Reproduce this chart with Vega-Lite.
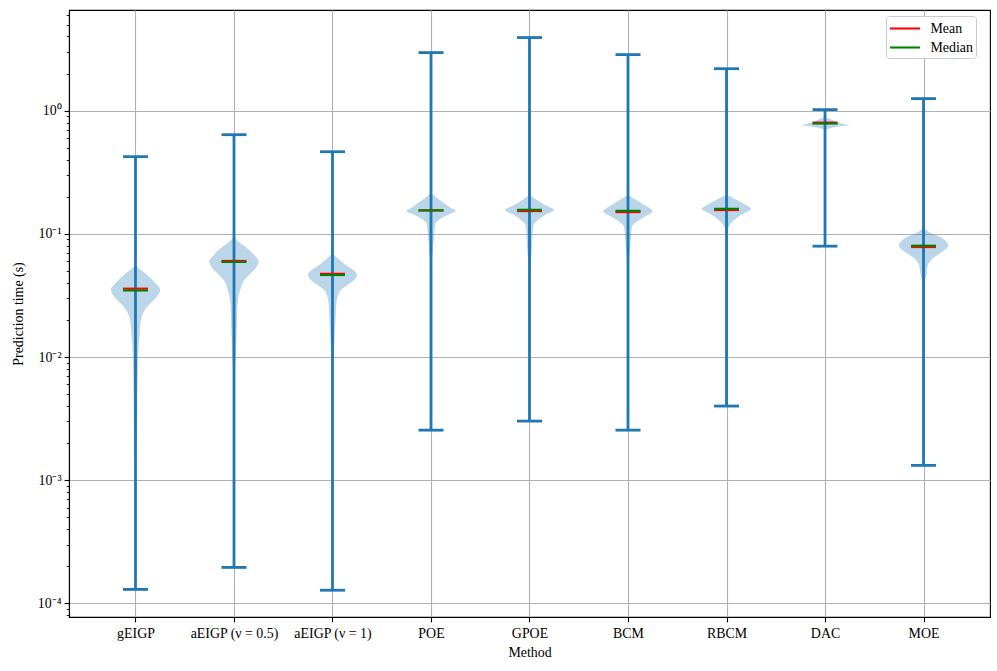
{
  "$schema": "https://vega.github.io/schema/vega-lite/v6.json",
  "width": 921,
  "height": 607,
  "autosize": {"type": "none"},
  "padding": {"left": 69, "top": 10, "right": 7, "bottom": 54},
  "background": "white",
  "datasets": {
    "violin": [
      {"m":1,"t":0.05598,"w":0},{"m":1,"t":0.05262,"w":0.033},{"m":1,"t":0.04642,"w":0.119},{"m":1,"t":0.04095,"w":0.186},{"m":1,"t":0.03505,"w":0.25},{"m":1,"t":0.03,"w":0.203},{"m":1,"t":0.02647,"w":0.135},{"m":1,"t":0.02335,"w":0.084},{"m":1,"t":0.02063,"w":0.058},{"m":1,"t":0.0182,"w":0.048},{"m":1,"t":0.0151,"w":0.041},{"m":1,"t":0.01252,"w":0.033},{"m":1,"t":0.01,"w":0.027},{"m":1,"t":0.004472,"w":0.02},{"m":1,"t":0.002115,"w":0.015},{"m":1,"t":0.001454,"w":0},
      {"m":2,"t":0.09454,"w":0},{"m":2,"t":0.08657,"w":0.044},{"m":2,"t":0.0765,"w":0.135},{"m":2,"t":0.06751,"w":0.203},{"m":2,"t":0.05954,"w":0.25},{"m":2,"t":0.05262,"w":0.22},{"m":2,"t":0.04642,"w":0.152},{"m":2,"t":0.04095,"w":0.094},{"m":2,"t":0.03618,"w":0.068},{"m":2,"t":0.03,"w":0.044},{"m":2,"t":0.02488,"w":0.033},{"m":2,"t":0.01936,"w":0.03},{"m":2,"t":0.01331,"w":0.023},{"m":2,"t":0.009454,"w":0.015},{"m":2,"t":0.006501,"w":0},
      {"m":3,"t":0.06968,"w":0},{"m":3,"t":0.06345,"w":0.051},{"m":3,"t":0.05598,"w":0.135},{"m":3,"t":0.04937,"w":0.23},{"m":3,"t":0.04642,"w":0.25},{"m":3,"t":0.04227,"w":0.22},{"m":3,"t":0.03849,"w":0.152},{"m":3,"t":0.03505,"w":0.084},{"m":3,"t":0.03192,"w":0.058},{"m":3,"t":0.02816,"w":0.041},{"m":3,"t":0.02195,"w":0.033},{"m":3,"t":0.0151,"w":0.023},{"m":3,"t":0.0114,"w":0.015},{"m":3,"t":0.00861,"w":0},
      {"m":4,"t":0.2142,"w":0},{"m":4,"t":0.1951,"w":0.061},{"m":4,"t":0.1776,"w":0.132},{"m":4,"t":0.1618,"w":0.203},{"m":4,"t":0.1538,"w":0.25},{"m":4,"t":0.1427,"w":0.172},{"m":4,"t":0.13,"w":0.081},{"m":4,"t":0.1222,"w":0.046},{"m":4,"t":0.1078,"w":0.035},{"m":4,"t":0.09226,"w":0.03},{"m":4,"t":0.08141,"w":0.023},{"m":4,"t":0.06751,"w":0.015},{"m":4,"t":0.05598,"w":0},
      {"m":5,"t":0.2075,"w":0},{"m":5,"t":0.189,"w":0.071},{"m":5,"t":0.1721,"w":0.152},{"m":5,"t":0.1558,"w":0.25},{"m":5,"t":0.1427,"w":0.162},{"m":5,"t":0.13,"w":0.091},{"m":5,"t":0.1184,"w":0.041},{"m":5,"t":0.1044,"w":0.033},{"m":5,"t":0.08141,"w":0.027},{"m":5,"t":0.06147,"w":0.015},{"m":5,"t":0.04642,"w":0},
      {"m":6,"t":0.2075,"w":0},{"m":6,"t":0.189,"w":0.081},{"m":6,"t":0.1721,"w":0.162},{"m":6,"t":0.1518,"w":0.25},{"m":6,"t":0.1382,"w":0.172},{"m":6,"t":0.1259,"w":0.091},{"m":6,"t":0.1146,"w":0.041},{"m":6,"t":0.1013,"w":0.033},{"m":6,"t":0.08141,"w":0.025},{"m":6,"t":0.06751,"w":0.015},{"m":6,"t":0.05598,"w":0},
      {"m":7,"t":0.2075,"w":0},{"m":7,"t":0.189,"w":0.101},{"m":7,"t":0.1721,"w":0.193},{"m":7,"t":0.1588,"w":0.25},{"m":7,"t":0.1473,"w":0.183},{"m":7,"t":0.1341,"w":0.101},{"m":7,"t":0.1222,"w":0.046},{"m":7,"t":0.1146,"w":0.025},{"m":7,"t":0.1038,"w":0},
      {"m":8,"t":0.8888,"w":0},{"m":8,"t":0.8449,"w":0.071},{"m":8,"t":0.8032,"w":0.132},{"m":8,"t":0.7736,"w":0.203},{"m":8,"t":0.7593,"w":0.25},{"m":8,"t":0.7412,"w":0.122},{"m":8,"t":0.718,"w":0.051},{"m":8,"t":0.7006,"w":0},
      {"m":9,"t":0.1119,"w":0},{"m":9,"t":0.1019,"w":0.068},{"m":9,"t":0.09279,"w":0.183},{"m":9,"t":0.07988,"w":0.25},{"m":9,"t":0.0714,"w":0.193},{"m":9,"t":0.06501,"w":0.112},{"m":9,"t":0.05921,"w":0.061},{"m":9,"t":0.05391,"w":0.041},{"m":9,"t":0.04642,"w":0.03},{"m":9,"t":0.03849,"w":0}
    ],
    "stats": [
      {"m":1,"min":0.00013,"max":0.423},
      {"m":2,"min":0.000196,"max":0.638},
      {"m":3,"min":0.000128,"max":0.464},
      {"m":4,"min":0.00255,"max":2.96},
      {"m":5,"min":0.00302,"max":3.92},
      {"m":6,"min":0.00255,"max":2.85},
      {"m":7,"min":0.004,"max":2.19},
      {"m":8,"min":0.0794,"max":1.019},
      {"m":9,"min":0.00132,"max":1.252}
    ],
    "centers": [
      {"m":1,"stat":"Mean","v":0.0359},{"m":2,"stat":"Mean","v":0.0603},{"m":3,"stat":"Mean","v":0.0474},{"m":4,"stat":"Mean","v":0.155},{"m":5,"stat":"Mean","v":0.153},{"m":6,"stat":"Mean","v":0.150},{"m":7,"stat":"Mean","v":0.1559},{"m":8,"stat":"Mean","v":0.800},{"m":9,"stat":"Mean","v":0.0781},
      {"m":1,"stat":"Median","v":0.0347},{"m":2,"stat":"Median","v":0.0591},{"m":3,"stat":"Median","v":0.0463},{"m":4,"stat":"Median","v":0.155},{"m":5,"stat":"Median","v":0.1567},{"m":6,"stat":"Median","v":0.1538},{"m":7,"stat":"Median","v":0.1597},{"m":8,"stat":"Median","v":0.786},{"m":9,"stat":"Median","v":0.0801}
    ]
  },
  "layer": [
    {
      "data": {"name": "violin"},
      "transform": [
        {"calculate": "datum.m - datum.w", "as": "lo"},
        {"calculate": "datum.m + datum.w", "as": "hi"}
      ],
      "mark": {"type": "area", "orient": "horizontal", "interpolate": "monotone", "fill": "#1f77b4", "fillOpacity": 0.3, "strokeWidth": 0},
      "encoding": {
        "y": {
          "field": "t", "type": "quantitative", "title": "Prediction time (s)",
          "scale": {"type": "log", "domain": [0.0000776, 6.56], "nice": false, "zero": false},
          "axis": {
            "values": [0.00008,0.00009,0.0001,0.0002,0.0003,0.0004,0.0005,0.0006,0.0007,0.0008,0.0009,0.001,0.002,0.003,0.004,0.005,0.006,0.007,0.008,0.009,0.01,0.02,0.03,0.04,0.05,0.06,0.07,0.08,0.09,0.1,0.2,0.3,0.4,0.5,0.6,0.7,0.8,0.9,1,2,3,4,5,6],
            "labelExpr": "datum.value==1 ? '10⁰' : datum.value==0.1 ? '10⁻¹' : datum.value==0.01 ? '10⁻²' : datum.value==0.001 ? '10⁻³' : datum.value==0.0001 ? '10⁻⁴' : ''",
            "grid": true,
            "gridOpacity": {"condition": {"test": "datum.value==1||datum.value==0.1||datum.value==0.01||datum.value==0.001||datum.value==0.0001", "value": 1}, "value": 0},
            "tickSize": {"condition": {"test": "datum.value==1||datum.value==0.1||datum.value==0.01||datum.value==0.001||datum.value==0.0001", "value": 4.9}, "value": 2.8},
            "tickWidth": {"condition": {"test": "datum.value==1||datum.value==0.1||datum.value==0.01||datum.value==0.001||datum.value==0.0001", "value": 1.1}, "value": 0.85},
            "labelPadding": 3,
            "titlePadding": 12
          }
        },
        "x": {
          "field": "lo", "type": "quantitative", "title": "Method",
          "scale": {"domain": [0.325, 9.675], "nice": false, "zero": false},
          "axis": {
            "values": [1,2,3,4,5,6,7,8,9],
            "labelExpr": "['', 'gEIGP', 'aEIGP (ν = 0.5)', 'aEIGP (ν = 1)', 'POE', 'GPOE', 'BCM', 'RBCM', 'DAC', 'MOE'][datum.value]",
            "grid": true,
            "labelPadding": 4.9,
            "titlePadding": 5
          }
        },
        "x2": {"field": "hi"},
        "detail": {"field": "m", "type": "nominal"}
      }
    },
    {
      "data": {"name": "stats"},
      "mark": {"type": "rule", "color": "#1f77b4", "strokeWidth": 2.8},
      "encoding": {
        "x": {"field": "m", "type": "quantitative", "title": "Method"},
        "y": {"field": "min", "type": "quantitative", "title": "Prediction time (s)"},
        "y2": {"field": "max"}
      }
    },
    {
      "data": {"name": "stats"},
      "mark": {"type": "tick", "orient": "horizontal", "color": "#1f77b4", "size": 25, "thickness": 2.8, "opacity": 1},
      "encoding": {
        "x": {"field": "m", "type": "quantitative", "title": "Method"},
        "y": {"field": "min", "type": "quantitative", "title": "Prediction time (s)"}
      }
    },
    {
      "data": {"name": "stats"},
      "mark": {"type": "tick", "orient": "horizontal", "color": "#1f77b4", "size": 25, "thickness": 2.8, "opacity": 1},
      "encoding": {
        "x": {"field": "m", "type": "quantitative", "title": "Method"},
        "y": {"field": "max", "type": "quantitative", "title": "Prediction time (s)"}
      }
    },
    {
      "data": {"name": "centers"},
      "mark": {"type": "tick", "orient": "horizontal", "size": 25, "thickness": 2.1, "opacity": 1},
      "encoding": {
        "x": {"field": "m", "type": "quantitative", "title": "Method"},
        "y": {"field": "v", "type": "quantitative", "title": "Prediction time (s)"},
        "color": {
          "field": "stat", "type": "nominal",
          "scale": {"domain": ["Mean", "Median"], "range": ["#ff0000", "#008000"]},
          "legend": {
            "title": null,
            "orient": "none",
            "legendX": 817,
            "legendY": 6,
            "symbolType": "M-1.58,-0.11H1.58V0.11H-1.58Z",
            "symbolSize": 361,
            "symbolStrokeWidth": 0,
            "symbolOffset": 6.5,
            "labelOffset": 16,
            "rowPadding": 2,
            "padding": 3,
            "strokeColor": "#cccccc",
            "fillColor": "white",
            "cornerRadius": 3,
            "labelFont": "Liberation Serif",
            "labelFontSize": 13.9,
            "labelColor": "black"
          }
        }
      }
    }
  ],
  "config": {
    "font": "Liberation Serif",
    "view": {"stroke": "black", "strokeWidth": 1.1},
    "axis": {
      "labelFont": "Liberation Serif",
      "labelFontSize": 13.9,
      "labelColor": "black",
      "titleFont": "Liberation Serif",
      "titleFontSize": 13.9,
      "titleFontWeight": "normal",
      "titleColor": "black",
      "domainColor": "black",
      "domainWidth": 1.1,
      "tickColor": "black",
      "tickWidth": 1.1,
      "tickSize": 4.9,
      "gridColor": "#b0b0b0",
      "gridWidth": 1.1
    }
  }
}
